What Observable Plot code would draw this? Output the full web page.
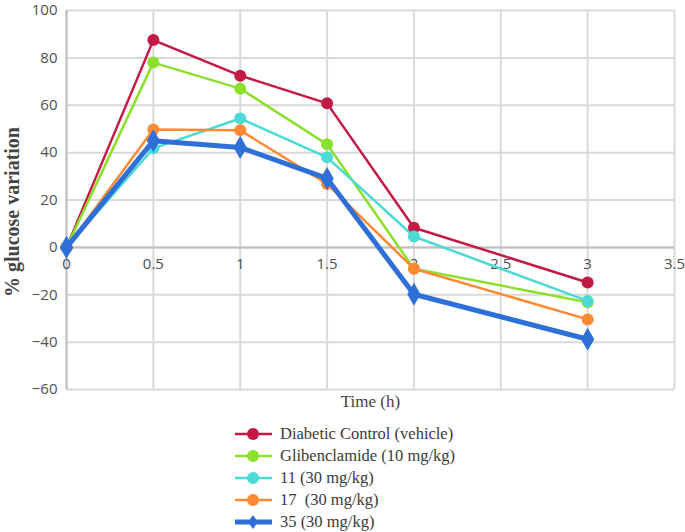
<!DOCTYPE html>
<html><head><meta charset="utf-8">
<script src="https://cdn.jsdelivr.net/npm/d3@7"></script>
<script src="https://cdn.jsdelivr.net/npm/@observablehq/plot@0.6"></script>
<style>
body{margin:0;background:#fff;}
#legend{padding-left:234px;padding-top:2px;font-family:"Liberation Serif","Times New Roman",serif;font-size:16.5px;color:#3a3a3a;}
.row{height:22px;display:flex;align-items:center;}
.row svg{margin-right:6px;}
</style>
</head><body>
<div id="chart"></div>
<div id="legend"></div>
<script>
const times = [0, 0.5, 1, 1.5, 2, 3];
const seriesNames = ["Diabetic Control (vehicle)", "Glibenclamide (10 mg/kg)", "11 (30 mg/kg)", "17  (30 mg/kg)", "35 (30 mg/kg)"];
const diabeticControl = [0, 87.5, 72.5, 60.8, 8.3, -14.8];
const glibenclamide = [0, 78, 67, 43.5, -9, -23.2];
const cmpd11 = [0, 41.8, 54.4, 38, 4.6, -22.6];
const cmpd17 = [0, 49.8, 49.4, 26.8, -9, -30.4];
const cmpd35 = [0, 45, 42.2, 29.1, -19.8, -38.8];
const seriesColors = ["#C21A44", "#8BE02C", "#4DD9D4", "#FF8A33", "#2E6FD8"];
const xTicks = [0, 0.5, 1, 1.5, 2, 2.5, 3, 3.5];
const yTicks = [-60, -40, -20, 0, 20, 40, 60, 80, 100];

const allValues = [diabeticControl, glibenclamide, cmpd11, cmpd17, cmpd35];
const data = [];
allValues.forEach((vals, i) => vals.forEach((v, j) => data.push({series: seriesNames[i], idx: i, t: times[j], v})));

const marks = [
  Plot.ruleX(xTicks, {stroke: "#d9d9d9", strokeWidth: 2}),
  Plot.ruleY(yTicks, {stroke: "#d9d9d9", strokeWidth: 2}),
  Plot.ruleY([0], {stroke: "#bfbfbf", strokeWidth: 2}),
  Plot.ruleX([0], {stroke: "#bfbfbf", strokeWidth: 2}),
  Plot.axisY(yTicks, {label: null, tickSize: 0, tickPadding: 9, fontSize: 15, fill: "#505050", fontFamily: "Open Sans, sans-serif"}),
  Plot.text(xTicks, {x: d => d, y: 0, text: d => String(d), dy: 17, fontSize: 15, fill: "#505050", fontFamily: "Open Sans, sans-serif"}),
];
allValues.forEach((vals, i) => {
  const d = data.filter(r => r.idx === i);
  const isBlue = i === 4;
  marks.push(Plot.line(d, {x: "t", y: "v", stroke: seriesColors[i], strokeWidth: isBlue ? 5 : 2.5}));
  marks.push(Plot.dot(d, {x: "t", y: "v", fill: seriesColors[i], r: isBlue ? 7 : 6, symbol: isBlue ? "diamond" : "circle"}));
});
marks.push(Plot.text(["% glucose variation"], {frameAnchor: "left", textAnchor: "middle", rotate: -90, dx: -54, dy: 12, fontSize: 20, fontWeight: "bold", fontFamily: "Liberation Serif, serif", fill: "#444"}));
marks.push(Plot.text(["Time (h)"], {frameAnchor: "bottom", dy: 17, fontSize: 17, fontFamily: "Liberation Serif, serif", fill: "#444"}));

const chart = Plot.plot({
  width: 685, height: 421,
  marginLeft: 66, marginRight: 11, marginTop: 10, marginBottom: 32,
  x: {domain: [0, 3.5], axis: null},
  y: {domain: [-60, 100], axis: null},
  style: {background: "#fff", overflow: "visible"},
  marks
});
document.getElementById("chart").appendChild(chart);

const legend = document.getElementById("legend");
seriesNames.forEach((name, i) => {
  const row = document.createElement("div");
  row.className = "row";
  const isBlue = i === 4;
  const marker = isBlue
    ? `<path d="M19,4 L24,11 L19,18 L14,11 Z" fill="${seriesColors[i]}"/>`
    : `<circle cx="19" cy="11" r="6" fill="${seriesColors[i]}"/>`;
  row.innerHTML = `<svg width="40" height="22"><line x1="1" x2="38" y1="11" y2="11" stroke="${seriesColors[i]}" stroke-width="${isBlue ? 5 : 2.5}"/>${marker}</svg><span>${name.replace(/  /g, "&nbsp; ")}</span>`;
  legend.appendChild(row);
});
</script>
</body></html>
